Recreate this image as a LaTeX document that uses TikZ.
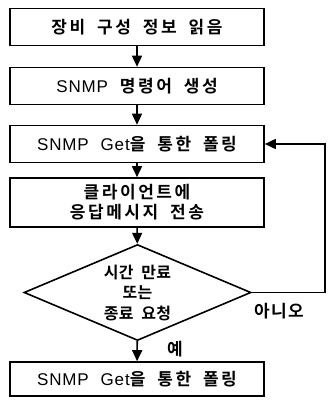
\documentclass[tikz,border=0pt]{standalone}
\usepackage{fontspec}
\setmainfont{Noto Sans CJK KR}[BoldFont=* Bold]
\newfontfamily\latin{Liberation Sans}[LetterSpace=5]
\usetikzlibrary{shapes.geometric,arrows.meta}
\newcommand{\txtfont}[4]{\fontsize{#1}{#2}\selectfont\bfseries\addfontfeature{LetterSpace=#3}\spaceskip=#4em\relax}
\tikzset{
  stepbox/.style={draw,line width=1.6pt,minimum width=254pt,minimum height=37pt,inner sep=0pt,font=\txtfont{17}{20}{15}{0.7},align=center},
  decide/.style={draw,line width=1.6pt,shape=diamond,aspect=2.39,minimum width=227pt,minimum height=96pt,inner sep=0pt,font=\txtfont{16}{20.5}{1}{0.5},align=center},
  flow/.style={line width=1.6pt,-{Triangle[length=11pt,width=10pt]}},
  lbl/.style={font=\txtfont{17}{18}{8}{0.5},inner sep=0pt}
}
\begin{document}
\begin{tikzpicture}[x=1pt,y=-1pt]
\useasboundingbox (0,0) rectangle (328,400);
\node[stepbox] (b1) at (137,27) {장비 구성 정보 읽음};
\node[stepbox] (b2) at (137,86) {{\latin\mdseries SNMP} 명령어 생성};
\node[stepbox] (b3) at (137,144) {{\latin\mdseries SNMP Get}을 통한 폴링};
\node[stepbox,minimum height=49pt] (b4) at (137,202.5) {클라이언트에\\응답메시지 전송};
\node[decide] (d) at (137.5,292.5) {시간 만료\\또는\\종료 요청};
\node[stepbox,minimum height=34pt] (b5) at (137,379) {{\latin\mdseries SNMP Get}을 통한 폴링};
\coordinate (c1) at (325,292.5);
\coordinate (c2) at (325,144);
\draw[flow] (b1) -- (b2);
\draw[flow] (b2) -- (b3);
\draw[flow] (b3) -- (b4);
\draw[flow] (b4) -- (d);
\draw[flow] (d) -- (b5);
\draw[flow] (d.east) -- (c1) -- (c2) -- (b3.east);
\node[lbl] (no) at (279,311) {아니오};
\node[lbl] (yes) at (175,349) {예};
\end{tikzpicture}
\end{document}
